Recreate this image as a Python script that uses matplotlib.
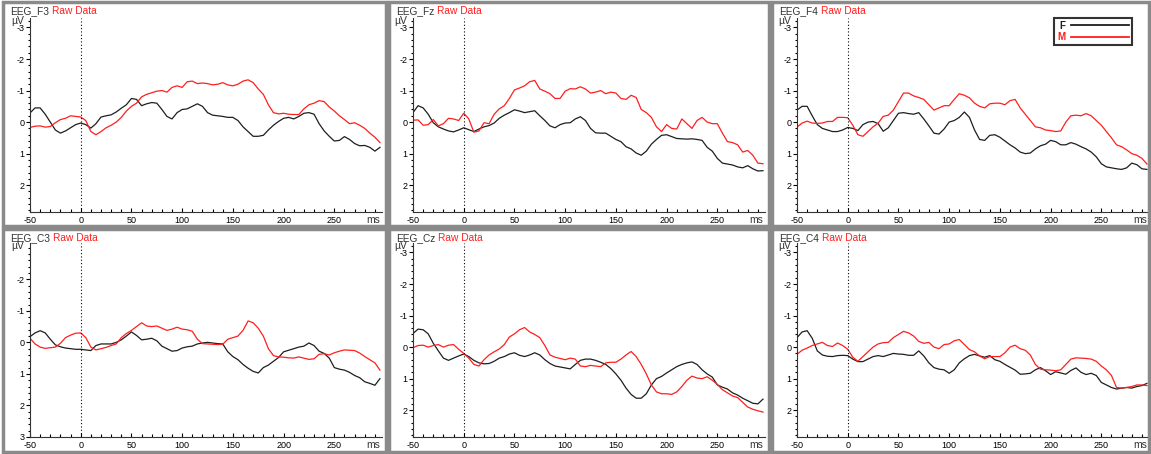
import matplotlib
matplotlib.use("Agg")
import matplotlib.pyplot as plt
from matplotlib.patches import Rectangle
from matplotlib.ticker import MultipleLocator

plt.rcParams['font.family'] = ['Liberation Sans', 'DejaVu Sans']
plt.rcParams['axes.unicode_minus'] = False

# time axis (ms)
times = list(range(-50, 300, 5))

# amplitudes in uV (negative up), F = black, M = red
f3_f = [-0.29, -0.45, -0.45, -0.25, 0.0, 0.25, 0.35, 0.28, 0.18, 0.08,
        0.03, 0.08, 0.19, 0.05, -0.16, -0.2, -0.23, -0.32, -0.44, -0.55,
        -0.75, -0.72, -0.52, -0.58, -0.62, -0.6, -0.4, -0.18, -0.1, -0.3,
        -0.4, -0.42, -0.5, -0.58, -0.5, -0.3, -0.22, -0.2, -0.18, -0.15,
        -0.15, -0.05, 0.15, 0.3, 0.45, 0.45, 0.42, 0.25, 0.1, -0.02,
        -0.12, -0.15, -0.1, -0.18, -0.28, -0.3, -0.25, 0.05, 0.28, 0.45,
        0.6, 0.58, 0.46, 0.55, 0.68, 0.75, 0.74, 0.8, 0.92, 0.8]
f3_m = [0.17, 0.13, 0.12, 0.16, 0.14, 0.02, -0.08, -0.12, -0.2, -0.18,
        -0.16, -0.05, 0.3, 0.4, 0.3, 0.18, 0.1, 0.0, -0.15, -0.35,
        -0.5, -0.6, -0.8, -0.88, -0.93, -0.98, -1.0, -0.95, -1.1, -1.15,
        -1.1, -1.28, -1.3, -1.22, -1.24, -1.22, -1.18, -1.2, -1.25, -1.18,
        -1.15, -1.2, -1.3, -1.34, -1.25, -1.05, -0.88, -0.55, -0.3, -0.26,
        -0.28, -0.25, -0.24, -0.24, -0.42, -0.55, -0.6, -0.68, -0.65, -0.48,
        -0.35, -0.2, -0.08, 0.05, 0.02, 0.1, 0.2, 0.35, 0.48, 0.65]

fz_f = [-0.3, -0.52, -0.45, -0.25, 0.02, 0.15, 0.22, 0.28, 0.31, 0.25,
        0.18, 0.24, 0.3, 0.22, 0.15, 0.11, 0.03, -0.12, -0.22, -0.3,
        -0.39, -0.35, -0.3, -0.33, -0.36, -0.2, -0.05, 0.12, 0.18, 0.08,
        0.03, 0.02, -0.1, -0.17, -0.05, 0.2, 0.34, 0.35, 0.35, 0.45,
        0.55, 0.62, 0.78, 0.85, 0.98, 1.05, 0.92, 0.7, 0.55, 0.42,
        0.4, 0.46, 0.52, 0.53, 0.54, 0.53, 0.55, 0.58, 0.8, 0.92,
        1.15, 1.3, 1.33, 1.36, 1.42, 1.45, 1.38, 1.48, 1.55, 1.54]
fz_m = [-0.06, -0.07, 0.1, 0.08, -0.08, 0.12, 0.05, -0.12, -0.1, -0.05,
        -0.28, -0.1, 0.32, 0.28, 0.02, 0.05, -0.25, -0.42, -0.52, -0.75,
        -1.02, -1.08, -1.15, -1.28, -1.32, -1.05, -0.98, -0.9, -0.75, -0.75,
        -0.98, -1.06, -1.05, -1.12, -1.05, -0.92, -0.95, -1.0, -0.9, -0.95,
        -0.92, -0.75, -0.72, -0.85, -0.78, -0.4, -0.3, -0.15, 0.15, 0.3,
        0.08, 0.2, 0.22, -0.1, 0.05, 0.2, -0.05, -0.15, 0.0, 0.05,
        0.05, 0.35, 0.62, 0.65, 0.72, 0.95, 0.9, 1.05, 1.3, 1.32]

f4_f = [-0.38, -0.5, -0.5, -0.2, 0.08, 0.2, 0.25, 0.3, 0.3, 0.25,
        0.17, 0.2, 0.27, 0.08, 0.0, -0.02, 0.05, 0.29, 0.18, -0.05,
        -0.28, -0.3, -0.27, -0.25, -0.3, -0.1, 0.12, 0.35, 0.38, 0.22,
        0.0, -0.05, -0.15, -0.32, -0.15, 0.25, 0.55, 0.58, 0.42, 0.4,
        0.48, 0.6, 0.72, 0.82, 0.95, 1.0, 0.98, 0.85, 0.75, 0.7,
        0.58, 0.62, 0.72, 0.72, 0.65, 0.7, 0.78, 0.85, 0.95, 1.1,
        1.32, 1.42, 1.45, 1.48, 1.5, 1.45, 1.3, 1.35, 1.48, 1.5]
f4_m = [0.16, 0.03, -0.03, 0.03, 0.04, 0.03, -0.02, -0.02, -0.15, -0.15,
        -0.14, 0.1, 0.4, 0.45, 0.3, 0.15, 0.03, -0.18, -0.22, -0.38,
        -0.65, -0.92, -0.92, -0.83, -0.78, -0.72, -0.55, -0.38, -0.45, -0.52,
        -0.52, -0.72, -0.9, -0.85, -0.77, -0.6, -0.5, -0.45, -0.58, -0.6,
        -0.6, -0.55, -0.68, -0.72, -0.45, -0.25, -0.05, 0.15, 0.18, 0.25,
        0.27, 0.3, 0.28, 0.0, -0.2, -0.22, -0.2, -0.27, -0.2, -0.05,
        0.1, 0.3, 0.5, 0.72, 0.78, 0.88, 1.0, 1.05, 1.15, 1.33]

c3_f = [-0.18, -0.3, -0.37, -0.3, -0.1, 0.08, 0.14, 0.18, 0.2, 0.22,
        0.22, 0.24, 0.26, 0.1, 0.05, 0.05, 0.05, 0.0, -0.08, -0.2,
        -0.33, -0.22, -0.08, -0.1, -0.13, -0.05, 0.12, 0.2, 0.28, 0.26,
        0.18, 0.14, 0.12, 0.05, 0.02, 0.0, 0.02, 0.04, 0.05, 0.3,
        0.45, 0.55, 0.7, 0.82, 0.92, 0.97, 0.8, 0.72, 0.6, 0.48,
        0.3, 0.25, 0.2, 0.15, 0.12, 0.02, 0.1, 0.28, 0.35, 0.5,
        0.8, 0.85, 0.88, 0.95, 1.05, 1.12, 1.25, 1.3, 1.36, 1.15]
c3_m = [-0.13, 0.05, 0.15, 0.19, 0.17, 0.15, 0.03, -0.15, -0.23, -0.29,
        -0.3, -0.15, 0.15, 0.24, 0.2, 0.16, 0.1, 0.05, -0.15, -0.28,
        -0.38, -0.5, -0.62, -0.52, -0.5, -0.52, -0.45, -0.38, -0.42, -0.48,
        -0.42, -0.4, -0.35, -0.1, 0.04, 0.05, 0.06, 0.07, 0.06, -0.1,
        -0.15, -0.2, -0.38, -0.68, -0.62, -0.45, -0.2, 0.2, 0.42, 0.46,
        0.47, 0.49, 0.5, 0.46, 0.5, 0.54, 0.52, 0.38, 0.36, 0.4,
        0.33, 0.28, 0.24, 0.25, 0.26, 0.34, 0.45, 0.55, 0.65, 0.88]

cz_f = [-0.43, -0.57, -0.55, -0.42, -0.12, 0.12, 0.35, 0.42, 0.35, 0.28,
        0.22, 0.3, 0.42, 0.5, 0.53, 0.52, 0.45, 0.35, 0.3, 0.22,
        0.18, 0.26, 0.3, 0.25, 0.18, 0.25, 0.4, 0.52, 0.6, 0.63,
        0.66, 0.69, 0.55, 0.42, 0.38, 0.38, 0.42, 0.48, 0.55, 0.68,
        0.85, 1.05, 1.3, 1.5, 1.62, 1.62, 1.48, 1.2, 1.0, 0.93,
        0.82, 0.72, 0.62, 0.55, 0.5, 0.47, 0.55, 0.72, 0.85, 0.95,
        1.2, 1.27, 1.33, 1.45, 1.52, 1.62, 1.7, 1.78, 1.8, 1.65]
cz_m = [0.02, -0.05, -0.06, 0.0, -0.05, -0.08, 0.0, -0.06, -0.08, 0.07,
        0.2, 0.35, 0.55, 0.6, 0.4, 0.25, 0.15, 0.06, -0.08, -0.32,
        -0.42, -0.55, -0.62, -0.48, -0.4, -0.3, -0.05, 0.25, 0.32, 0.36,
        0.4, 0.35, 0.38, 0.6, 0.62, 0.58, 0.6, 0.62, 0.5, 0.48,
        0.48, 0.38, 0.25, 0.14, 0.3, 0.55, 0.85, 1.2, 1.42, 1.48,
        1.48, 1.5, 1.42, 1.25, 1.05, 0.92, 0.98, 1.0, 0.94, 1.05,
        1.18, 1.35, 1.45, 1.55, 1.6, 1.75, 1.9, 1.97, 2.02, 2.06]

c4_f = [-0.3, -0.48, -0.52, -0.28, 0.12, 0.25, 0.29, 0.3, 0.27, 0.26,
        0.27, 0.38, 0.46, 0.46, 0.38, 0.3, 0.27, 0.3, 0.25, 0.2,
        0.22, 0.23, 0.26, 0.26, 0.12, 0.28, 0.5, 0.65, 0.7, 0.72,
        0.83, 0.72, 0.5, 0.37, 0.27, 0.23, 0.28, 0.32, 0.27, 0.4,
        0.45, 0.55, 0.64, 0.73, 0.86, 0.85, 0.83, 0.72, 0.65, 0.75,
        0.87, 0.78, 0.82, 0.86, 0.74, 0.66, 0.8, 0.87, 0.83, 0.9,
        1.12, 1.2, 1.28, 1.33, 1.3, 1.28, 1.3, 1.25, 1.22, 1.15]
c4_m = [0.23, 0.1, 0.03, -0.05, -0.1, -0.15, -0.05, -0.02, -0.13, -0.05,
        0.07, 0.32, 0.45, 0.3, 0.15, 0.0, -0.1, -0.14, -0.15, -0.3,
        -0.4, -0.5, -0.45, -0.35, -0.18, -0.12, -0.15, 0.0, 0.05, -0.08,
        -0.1, -0.2, -0.24, -0.08, 0.08, 0.15, 0.28, 0.37, 0.3, 0.3,
        0.3, 0.18, 0.0, -0.06, 0.05, 0.1, 0.25, 0.55, 0.7, 0.72,
        0.73, 0.75, 0.72, 0.55, 0.38, 0.34, 0.35, 0.36, 0.38, 0.45,
        0.6, 0.72, 0.9, 1.28, 1.3, 1.28, 1.25, 1.2, 1.2, 1.22]

channels = ["EEG_F3", "EEG_Fz", "EEG_F4", "EEG_C3", "EEG_Cz", "EEG_C4"]
f_data = [f3_f, fz_f, f4_f, c3_f, cz_f, c4_f]
m_data = [f3_m, fz_m, f4_m, c3_m, cz_m, c4_m]

W, H = 1151, 454
fig = plt.figure(figsize=(W / 100, H / 100), dpi=100)

# panel frames (pixels: left, top, right, bottom)
col_frames = [(3, 386), (389, 769), (772, 1149)]
row_frames = [(2, 226), (229, 452)]
col_axes = [30, 413, 797]
row_axes = [(18, 212), (243, 437)]

black = "#1e1e1e"
red = "#ff1e1e"

for i in range(6):
    r, c = divmod(i, 3)
    fl, fr = col_frames[c]
    ft, fb = row_frames[r]
    fig.add_artist(Rectangle((fl / W, 1 - fb / H), (fr - fl) / W, (fb - ft) / H,
                             transform=fig.transFigure, fill=False,
                             edgecolor="#8a8a8a", lw=2.5))

    top, bot = row_axes[r]
    ax = fig.add_axes([col_axes[c] / W, 1 - bot / H, 352 / W, (bot - top) / H])
    lf, = ax.plot(times, f_data[i], color=black, lw=0.9, label="F")
    lm, = ax.plot(times, m_data[i], color=red, lw=0.9, label="M")
    ax.axvline(0, color="black", ls=(0, (1, 2)), lw=0.8)

    ax.set_xlim(-50, 297)
    if channels[i] == "EEG_C3":
        ax.set_ylim(3, -3.15)
        ax.set_yticks([-2, -1, 0, 1, 2, 3])
    else:
        ax.set_ylim(2.85, -3.3)
        ax.set_yticks([-3, -2, -1, 0, 1, 2])
    ax.set_xticks([-50, 0, 50, 100, 150, 200, 250])
    ax.xaxis.set_minor_locator(MultipleLocator(10))
    ax.yaxis.set_minor_locator(MultipleLocator(0.2))
    ax.tick_params(axis="x", which="major", direction="in", length=3,
                   labelsize=6.5, pad=3, width=0.8)
    ax.tick_params(axis="x", which="minor", direction="in", length=2, width=0.8)
    ax.tick_params(axis="y", which="major", direction="out", length=3,
                   labelsize=6.5, pad=1, width=0.8)
    ax.tick_params(axis="y", which="minor", direction="out", length=1.5, width=0.8)
    for s in ["top", "right"]:
        ax.spines[s].set_visible(False)
    for s in ["left", "bottom"]:
        ax.spines[s].set_linewidth(0.8)
        ax.spines[s].set_color("#333333")

    ax.text(-0.034, 0.985, "µV", transform=ax.transAxes, fontsize=7.5,
            ha="center", va="center", color="#333333")
    ax.text(0.975, -0.042, "ms", transform=ax.transAxes, fontsize=7.5,
            ha="center", va="center", color="#333333")

    # panel title
    ty = 1 - (ft + 9) / H
    t = fig.text((fl + 7) / W, ty, channels[i], fontsize=7.3,
                 color="#333333", va="center", ha="left")
    fig.canvas.draw()
    bb = t.get_window_extent()
    fig.text(bb.x1 / W + 3 / W, ty, "Raw Data", fontsize=7.3,
             color=red, va="center", ha="left")

    if channels[i] == "EEG_F4":
        leg = fig.legend([lf, lm], ["F", "M"], loc="upper right",
                         bbox_to_anchor=(1137 / W, 1 - 13 / H),
                         markerfirst=False, frameon=True, fancybox=False,
                         edgecolor="black", handlelength=6.0, handletextpad=0.6,
                         borderpad=0.3, labelspacing=0.15,
                         prop={"size": 7, "weight": "bold"}, labelcolor="linecolor")
        leg.get_frame().set_linewidth(1.5)
        for h in leg.get_lines():
            h.set_linewidth(1.3)

fig.savefig("out.png", dpi=100)
